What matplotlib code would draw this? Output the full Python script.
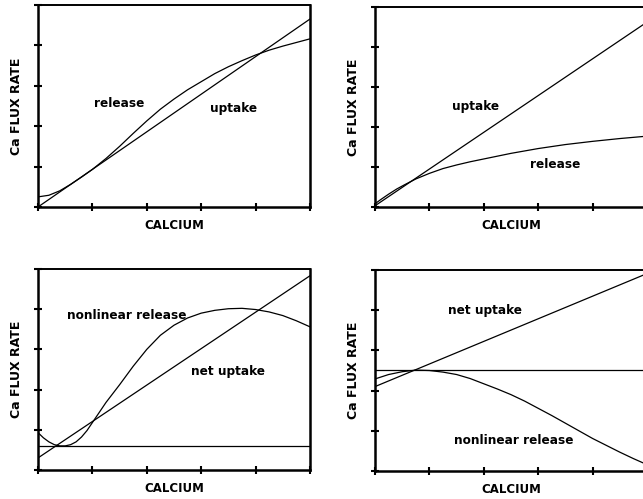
import numpy as np
import matplotlib.pyplot as plt

# Panel A (top left): linear uptake vs sigmoid release
a_uptake_x = [0, 5]
a_uptake_y = [0, 4.65]
a_release_x = [0, 0.2, 0.4, 0.6, 0.8, 1.0, 1.25, 1.5, 1.75, 2.0, 2.25, 2.5, 2.75,
               3.0, 3.25, 3.5, 3.75, 4.0, 4.25, 4.5, 4.75, 5.0]
a_release_y = [0.25, 0.29, 0.4, 0.56, 0.74, 0.93, 1.2, 1.5, 1.82, 2.13, 2.42, 2.67, 2.9,
               3.1, 3.3, 3.47, 3.62, 3.76, 3.88, 3.98, 4.07, 4.16]

# Panel B (top right): linear uptake vs saturating release
b_uptake_x = [0, 5]
b_uptake_y = [0.03, 4.62]
b_release_x = [0, 0.1, 0.25, 0.4, 0.55, 0.75, 1.0, 1.25, 1.5, 1.75, 2.0, 2.5,
               3.0, 3.5, 4.0, 4.5, 5.0]
b_release_y = [0.08, 0.18, 0.32, 0.45, 0.56, 0.70, 0.84, 0.96, 1.05, 1.13, 1.2, 1.34,
               1.46, 1.56, 1.64, 1.71, 1.77]

# Panel C (bottom left): nonlinear release, net uptake, baseline
c_base = 0.6
c_net_x = [0, 5]
c_net_y = [0.3, 4.83]
c_rel_x = [0, 0.1, 0.2, 0.3, 0.4, 0.5, 0.6, 0.7, 0.8, 0.9, 1.0, 1.1, 1.25, 1.5, 1.75,
           2.0, 2.25, 2.5, 2.75, 3.0, 3.25, 3.5, 3.75, 4.0, 4.25, 4.5, 4.75, 5.0]
c_rel_y = [0.93, 0.8, 0.7, 0.63, 0.6, 0.6, 0.63, 0.7, 0.82, 0.98, 1.18, 1.38, 1.68, 2.12, 2.58,
           3.0, 3.35, 3.6, 3.78, 3.9, 3.97, 4.01, 4.02, 3.99, 3.93, 3.84, 3.71, 3.56]

# Panel D (bottom right)
d_base = 2.51
d_net_x = [0, 5]
d_net_y = [2.1, 4.91]
d_rel_x = [0, 0.25, 0.5, 0.75, 1.0, 1.25, 1.5, 1.75, 2.0, 2.25, 2.5, 2.75, 3.0,
           3.25, 3.5, 3.75, 4.0, 4.25, 4.5, 4.75, 5.0]
d_rel_y = [2.29, 2.40, 2.47, 2.51, 2.5, 2.46, 2.4, 2.3, 2.17, 2.04, 1.9, 1.74, 1.56,
           1.38, 1.19, 1.0, 0.81, 0.64, 0.47, 0.31, 0.16]

fig = plt.figure(figsize=(6.43, 4.99), dpi=100)

boxes = [
    [0.0591, 0.5852, 0.423, 0.405],
    [0.5832, 0.5852, 0.423, 0.401],
    [0.0591, 0.0581, 0.423, 0.403],
    [0.5832, 0.056, 0.423, 0.403],
]
axs = [fig.add_axes(b) for b in boxes]

lw = 0.9
txt = dict(fontsize=8.7, fontweight='bold', ha='center', va='center')

ax = axs[0]
ax.plot(a_uptake_x, a_uptake_y, 'k-', lw=lw)
ax.plot(a_release_x, a_release_y, 'k-', lw=lw)
ax.text(1.5, 2.56, 'release', **txt)
ax.text(3.6, 2.44, 'uptake', **txt)

ax = axs[1]
ax.plot(b_uptake_x, b_uptake_y, 'k-', lw=lw)
ax.plot(b_release_x, b_release_y, 'k-', lw=lw)
ax.text(1.84, 2.5, 'uptake', **txt)
ax.text(3.32, 1.07, 'release', **txt)

ax = axs[2]
ax.axhline(c_base, color='k', lw=lw)
ax.plot(c_net_x, c_net_y, 'k-', lw=lw)
ax.plot(c_rel_x, c_rel_y, 'k-', lw=lw)
ax.text(1.63, 3.83, 'nonlinear release', **txt)
ax.text(3.5, 2.44, 'net uptake', **txt)

ax = axs[3]
ax.axhline(d_base, color='k', lw=lw)
ax.plot(d_net_x, d_net_y, 'k-', lw=lw)
ax.plot(d_rel_x, d_rel_y, 'k-', lw=lw)
ax.text(2.03, 3.98, 'net uptake', **txt)
ax.text(2.55, 0.77, 'nonlinear release', **txt)

for ax in axs:
    ax.set_xlim(0, 5)
    ax.set_ylim(0, 5)
    ax.set_xticks(np.arange(6))
    ax.set_yticks(np.arange(6))
    ax.set_xticklabels([])
    ax.set_yticklabels([])
    ax.tick_params(direction='inout', length=6, width=1.5)
    for s in ax.spines.values():
        s.set_linewidth(1.8)
    ax.spines['top'].set_linewidth(1.4)
    ax.set_xlabel('CALCIUM', fontsize=8.5, fontweight='bold', labelpad=2)
    ax.set_ylabel('Ca FLUX RATE', fontsize=9, fontweight='bold', labelpad=4)

fig.savefig('out.png', dpi=100)
